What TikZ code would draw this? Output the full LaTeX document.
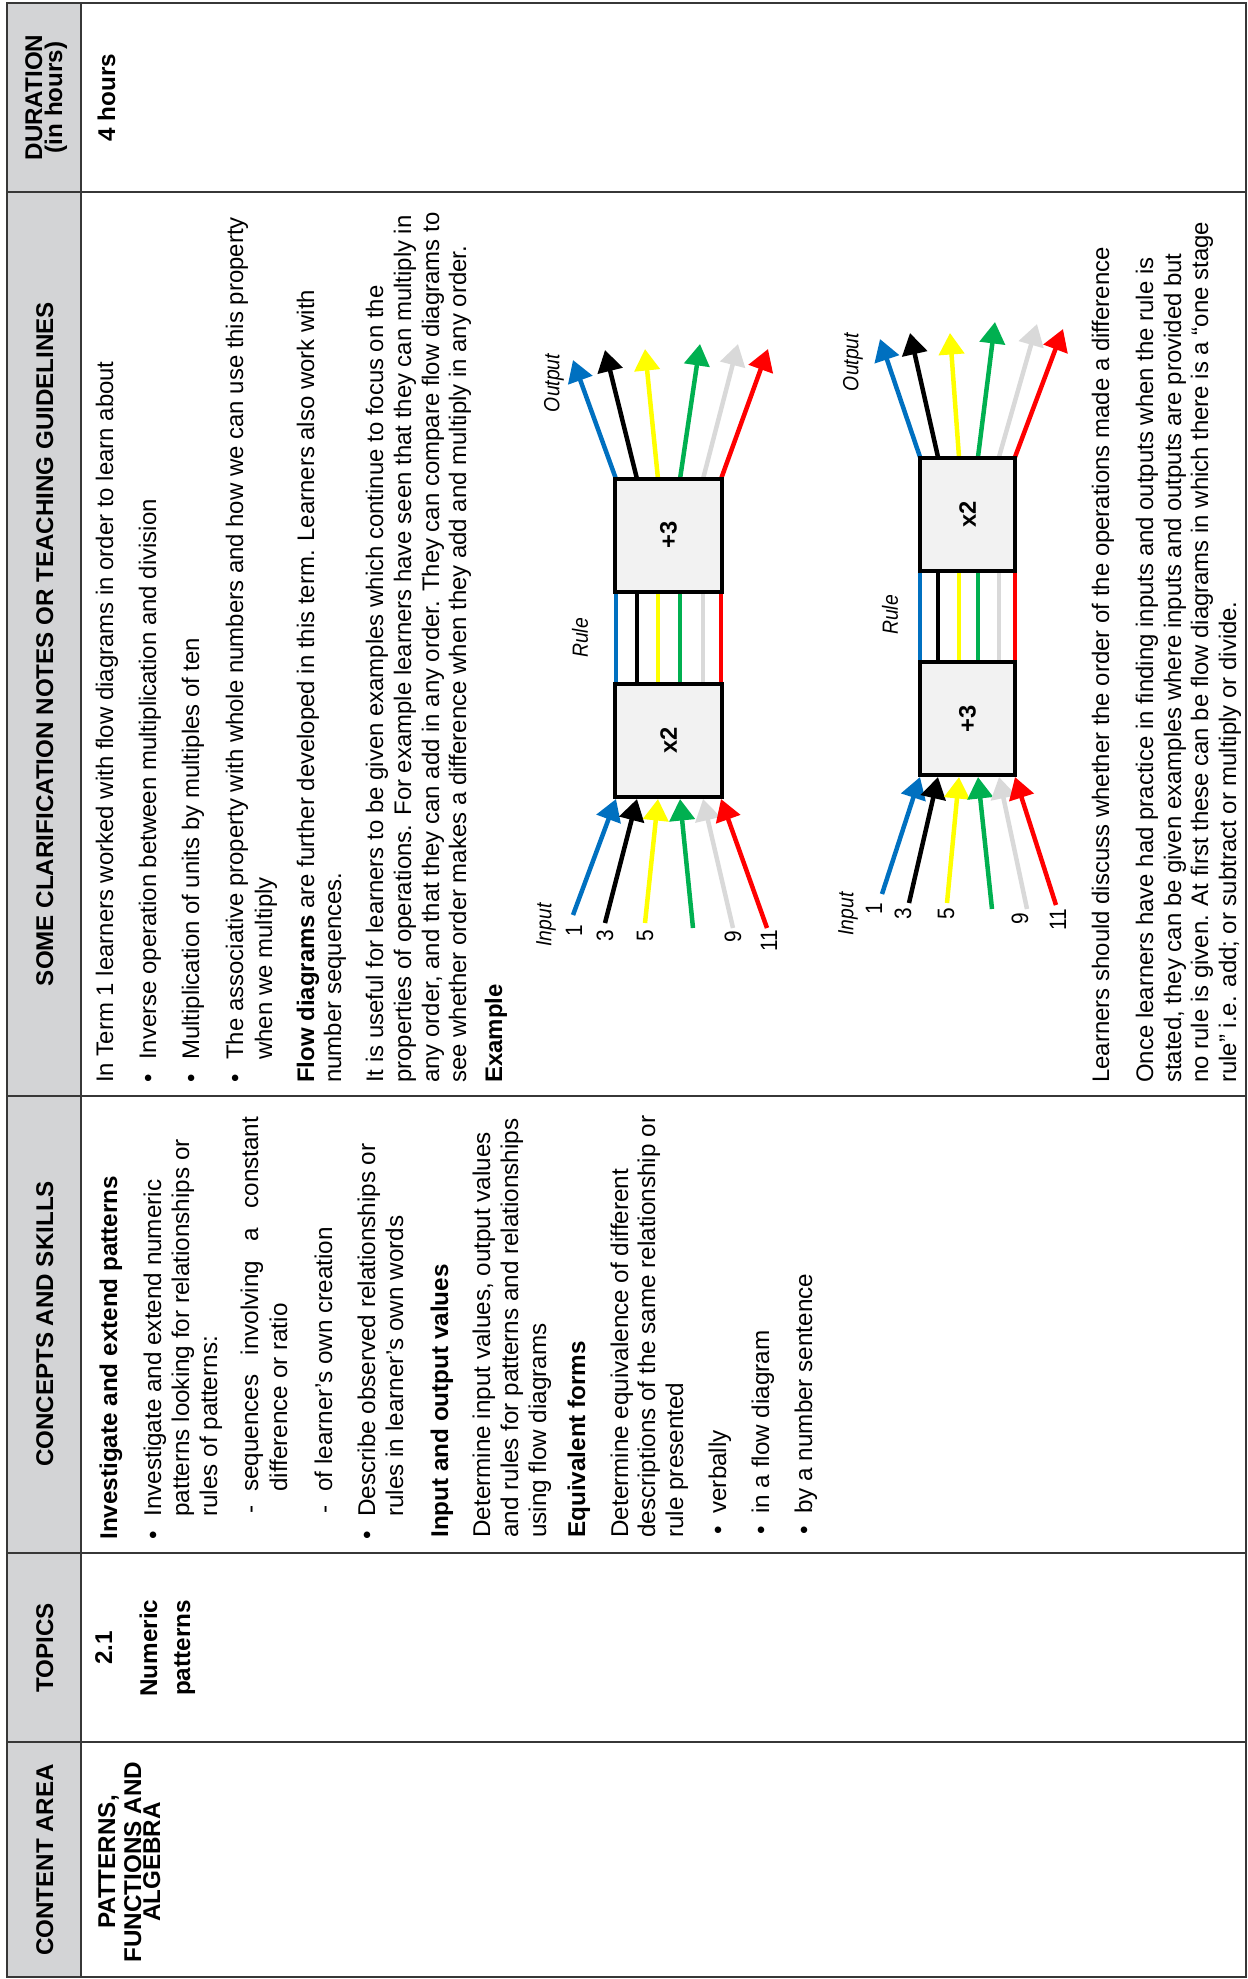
\documentclass[tikz,border=0pt]{standalone}
\usepackage{fontspec}
\setmainfont{Liberation Sans}
\newfontfamily\narrowf[FakeStretch=0.88]{Liberation Sans}
\usetikzlibrary{arrows.meta}
\definecolor{fblue}{RGB}{0,112,192}
\definecolor{fgreen}{RGB}{0,176,80}
\definecolor{fyellow}{RGB}{255,255,0}
\definecolor{fgray}{RGB}{217,217,217}
\definecolor{fred}{RGB}{255,0,0}
\definecolor{hdrgray}{RGB}{211,212,214}
\definecolor{boxfill}{RGB}{242,242,242}
\definecolor{rulecol}{RGB}{55,55,55}
\begin{document}
\begin{tikzpicture}[x=0.02cm,y=-0.02cm,
  txt/.style={rotate=90,anchor=base west,inner sep=0pt,font=\fontsize{13.8}{16}\selectfont},
  btxt/.style={txt,font=\fontsize{13.8}{16}\selectfont\bfseries},
  ntxt/.style={rotate=90,anchor=base west,inner sep=0pt,font=\fontsize{13.63}{16}\selectfont},
  bntxt/.style={ntxt,font=\fontsize{13.63}{16}\selectfont\bfseries},
  hdr/.style={rotate=90,anchor=base,inner sep=0pt,font=\fontsize{13.75}{16}\selectfont\bfseries},
  ctr/.style={rotate=90,anchor=base,inner sep=0pt,font=\fontsize{13.8}{16}\selectfont\bfseries},
  lab/.style={rotate=90,inner sep=0pt,font=\fontsize{12.5}{14}\selectfont\narrowf\itshape},
  dig/.style={rotate=90,inner sep=0pt,font=\fontsize{13.5}{15}\selectfont\narrowf},
  opbox/.style={rotate=90,draw=black,line width=0.08cm,fill=boxfill,inner sep=0pt,font=\fontsize{13.5}{15}\selectfont\bfseries},
  flow/.style={line width=0.09cm},
  arr/.style={flow,-{Triangle[length=0.43cm,width=0.5cm]}},
  tline/.style={draw=rulecol,line width=0.04cm}
]
\useasboundingbox (0,0) rectangle (1248,1979);
% table
\fill[hdrgray] (7,3) rectangle (81,1977);
\draw[tline] (7,3) rectangle (1246,1977);
\draw[tline] (81,3) -- (81,1977);
\foreach \yy in {192,1096,1553,1742} {\draw[tline] (7,\yy) -- (1246,\yy);}
% headers
\node[hdr] (h1) at (42,97.5) {DURATION};
\node[hdr] (h1b) at (62,97.5) {(in hours)};
\node[hdr] (h2) at (53,644) {SOME CLARIFICATION NOTES OR TEACHING GUIDELINES};
\node[hdr] (h3) at (53,1324) {CONCEPTS AND SKILLS};
\node[hdr] (h4) at (53,1648) {TOPICS};
\node[hdr] (h5) at (53,1860) {CONTENT AREA};
% duration, topic, content
\node[ctr] (d1) at (115,97.5) {4 hours};
\node[ctr] (t1) at (112,1648) {2.1};
\node[ctr] (t2) at (157,1648) {Numeric};
\node[ctr] (t3) at (190,1648) {patterns};
\node[ctr] (a1) at (115,1862) {PATTERNS,};
\node[ctr] (a2) at (141,1862) {FUNCTIONS AND};
\node[ctr] (a3) at (160,1862) {ALGEBRA};
% concepts and skills
\node[btxt] (k1) at (117,1540) {Investigate and extend patterns};
\node[txt] (kb1) at (161,1540) {•};
\node[txt] (k2) at (161,1517) {Investigate and extend numeric};
\node[txt] (k3) at (189,1517) {patterns looking for relationships or};
\node[txt] (k4) at (217,1517) {rules of patterns:};
\node[txt] (kd1) at (258,1514) {-};
\node[txt] (k5) at (258,1492) {\makebox[7.5cm][s]{sequences involving a constant}};
\node[txt] (k6) at (287,1492) {difference or ratio};
\node[txt] (kd2) at (332,1514) {-};
\node[txt] (k7) at (332,1492) {of learner’s own creation};
\node[txt] (kb2) at (375,1540) {•};
\node[txt] (k8) at (375,1517) {Describe observed relationships or};
\node[txt] (k9) at (403,1517) {rules in learner’s own words};
\node[btxt] (k10) at (448,1538) {Input and output values};
\node[txt] (k11) at (490,1538) {Determine input values, output values};
\node[txt] (k12) at (518,1538) {and rules for patterns and relationships};
\node[txt] (k13) at (546,1538) {using flow diagrams};
\node[btxt] (k14) at (585,1538) {Equivalent forms};
\node[txt] (k15) at (628,1538) {Determine equivalence of different};
\node[txt] (k16) at (655,1538) {descriptions of the same relationship or};
\node[txt] (k17) at (683,1538) {rule presented};
\node[txt] (kb3) at (726,1535) {•};
\node[txt] (k18) at (726,1514) {verbally};
\node[txt] (kb4) at (769,1535) {•};
\node[txt] (k19) at (769,1514) {in a flow diagram};
\node[txt] (kb5) at (812,1535) {•};
\node[txt] (k20) at (812,1514) {by a number sentence};
% clarification notes
\node[ntxt] (c1) at (113,1083) {In Term 1 learners worked with flow diagrams in order to learn about};
\node[ntxt] (cb1) at (156,1083) {•};
\node[ntxt] (c2) at (156,1060) {Inverse operation between multiplication and division};
\node[ntxt] (cb2) at (199,1083) {•};
\node[ntxt] (c3) at (199,1060) {Multiplication of units by multiples of ten};
\node[ntxt] (cb3) at (243,1083) {•};
\node[ntxt] (c4) at (243,1060) {The associative property with whole numbers and how we can use this property};
\node[ntxt] (c5) at (272,1060) {when we multiply};
\node[ntxt] (c6) at (314,1083) {\textbf{Flow diagrams} are further developed in this term. Learners also work with};
\node[ntxt] (c7) at (341,1083) {number sequences.};
\node[ntxt] (c8) at (383,1083) {It is useful for learners to be given examples which continue to focus on the};
\node[ntxt] (c9) at (411,1083) {properties of operations. For example learners have seen that they can multiply in};
\node[ntxt] (c10) at (439,1083) {any order, and that they can add in any order. They can compare flow diagrams to};
\node[ntxt] (c11) at (466,1083) {see whether order makes a difference when they add and multiply in any order.};
\node[bntxt] (c12) at (502,1083) {Example};
\node[ntxt] (c13) at (1109,1083) {Learners should discuss whether the order of the operations made a difference};
\node[ntxt] (c14) at (1153,1083) {Once learners have had practice in finding inputs and outputs when the rule is};
\node[ntxt] (c15) at (1181,1083) {stated, they can be given examples where inputs and outputs are provided but};
\node[ntxt] (c16) at (1208,1083) {no rule is given. At first these can be flow diagrams in which there is a “one stage};
\node[ntxt] (c17) at (1236,1083) {rule” i.e. add; or subtract or multiply or divide.};
% flow diagram 1
\foreach \c/\sx/\sy/\gx/\tx/\ty in {
  fblue/573/915/616/573/360,
  black/605/923/637/605/350,
  fyellow/645/923/658/645/349,
  fgreen/693/928/680/700/344,
  fgray/733/928/703/738/344,
  fred/767/928/721/768/349}{
  \coordinate (sa\c) at (\sx,\sy);
  \coordinate (ea\c) at (\gx,799);
  \coordinate (ga\c) at (\gx,593);
  \coordinate (ha\c) at (\gx,683);
  \coordinate (oa\c) at (\gx,479);
  \coordinate (ta\c) at (\tx,\ty);
  \draw[arr,color=\c] (sa\c) -- (ea\c);
  \draw[flow,color=\c] (ga\c) -- (ha\c);
  \draw[arr,color=\c] (oa\c) -- (ta\c);
}
\node[opbox,minimum width=2.26cm,minimum height=2.14cm] (m1) at (668.5,740.5) {x2};
\node[opbox,minimum width=2.26cm,minimum height=2.14cm] (p1) at (668.5,535) {+3};
\node[lab] (in1) at (546,925) {Input};
\node[lab] (out1) at (554,383) {Output};
\node[lab] (r1) at (580,638) {Rule};
\node[dig] (n11) at (574,931) {1};
\node[dig] (n13) at (605,936) {3};
\node[dig] (n15) at (645,936) {5};
\node[dig] (n19) at (733,937) {9};
\node[dig] (n111) at (769,941) {11};
% flow diagram 2
\foreach \c/\sx/\sy/\gx/\tx/\ty in {
  fblue/882/894/920/880/339,
  black/909/903/938/910/333,
  fyellow/947/903/959/950/333,
  fgreen/992/909/978/995/322,
  fgray/1027/909/999/1037/324,
  fred/1056/905/1015/1063/329}{
  \coordinate (sb\c) at (\sx,\sy);
  \coordinate (eb\c) at (\gx,777);
  \coordinate (gb\c) at (\gx,573);
  \coordinate (hb\c) at (\gx,660);
  \coordinate (ob\c) at (\gx,457);
  \coordinate (tb\c) at (\tx,\ty);
  \draw[arr,color=\c] (sb\c) -- (eb\c);
  \draw[flow,color=\c] (gb\c) -- (hb\c);
  \draw[arr,color=\c] (ob\c) -- (tb\c);
}
\node[opbox,minimum width=2.26cm,minimum height=1.9cm] (p2) at (967.5,718.5) {+3};
\node[opbox,minimum width=2.26cm,minimum height=1.9cm] (m2) at (967.5,514) {x2};
\node[lab] (in2) at (848,914) {Input};
\node[lab] (out2) at (853,362) {Output};
\node[lab] (r2) at (890,615) {Rule};
\node[dig] (n21) at (874,909) {1};
\node[dig] (n23) at (903,914) {3};
\node[dig] (n25) at (946,914) {5};
\node[dig] (n29) at (1020,919) {9};
\node[dig] (n211) at (1058,920) {11};
\end{tikzpicture}
\end{document}
